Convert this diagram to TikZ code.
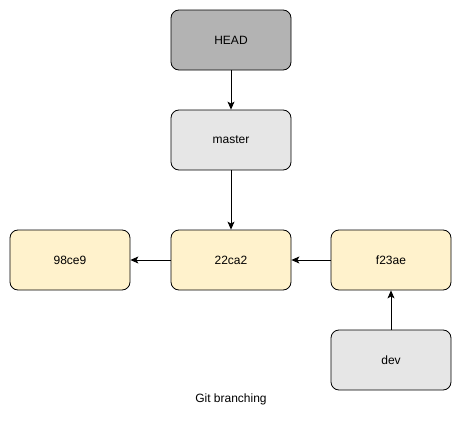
\documentclass[tikz,border=0pt]{standalone}
\usepackage{fontspec}
\setmainfont{Liberation Sans}
\usetikzlibrary{arrows.meta}
\definecolor{headfill}{HTML}{B3B3B3}
\definecolor{grayfill}{HTML}{E6E6E6}
\definecolor{yellowfill}{HTML}{FFF2CC}
\tikzset{
  box/.style={draw=black, line width=0.8pt, rounded corners=8pt, minimum width=120pt, minimum height=60pt, inner sep=0pt, font=\fontsize{12}{14}\selectfont, anchor=center},
  conn/.style={draw=black, line width=0.8pt, -{Stealth[length=8pt,width=7pt,inset=2pt]}}
}
\begin{document}
\begin{tikzpicture}[x=1pt,y=-1pt]
\useasboundingbox (0,0) rectangle (461,431);
\node[box, fill=headfill] (head) at (231,40) {HEAD};
\node[box, fill=grayfill] (master) at (231,140) {master};
\node[box, fill=yellowfill] (c98) at (70,260) {98ce9};
\node[box, fill=yellowfill] (c22) at (231,260) {22ca2};
\node[box, fill=yellowfill] (cf2) at (391,260) {f23ae};
\node[box, fill=grayfill] (dev) at (391,360) {dev};
\node[font=\fontsize{12}{14}\selectfont] (cap) at (231,399) {Git branching};
\draw[conn] (head) -- (master);
\draw[conn] (master) -- (c22);
\draw[conn] (c22) -- (c98);
\draw[conn] (cf2) -- (c22);
\draw[conn] (dev) -- (cf2);
\end{tikzpicture}
\end{document}
